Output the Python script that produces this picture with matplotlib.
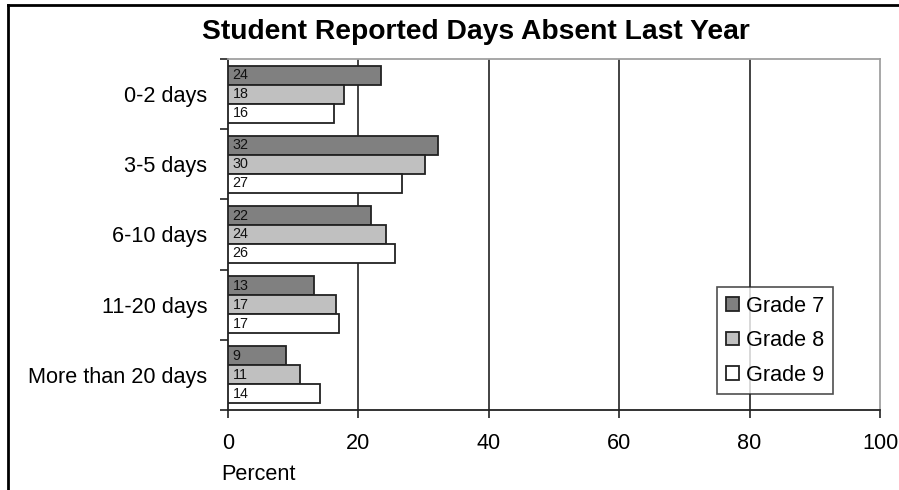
import matplotlib
matplotlib.use("Agg")
import matplotlib.pyplot as plt
from matplotlib.lines import Line2D
import numpy as np

plt.rcParams['font.family'] = ['Liberation Sans', 'DejaVu Sans']

categories = ["0-2 days", "3-5 days", "6-10 days", "11-20 days", "More than 20 days"]
series_names = ["Grade 7", "Grade 8", "Grade 9"]
grade7 = [23.5, 32.2, 21.9, 13.2, 8.9]
grade8 = [17.8, 30.2, 24.2, 16.6, 11.0]
grade9 = [16.2, 26.7, 25.6, 17.1, 14.1]
x_ticks = [0, 20, 40, 60, 80, 100]

colors = ["#808080", "#C0C0C0", "#FFFFFF"]
edge = "#222222"
fs = 15.6

fig = plt.figure(figsize=(8.99, 4.90), dpi=100)
ax = fig.add_axes([0.2536, 0.1633, 0.9789 - 0.2536, 0.8796 - 0.1633])

n = len(categories)
bar_h = 0.27
centers = np.arange(n)
for i, (vals, col, name) in enumerate(zip([grade7, grade8, grade9], colors, series_names)):
    ypos = centers + (i - 1) * bar_h
    ax.barh(ypos, vals, height=bar_h, color=col, edgecolor=edge, linewidth=1.3,
            label=name, zorder=3)
    for y, v in zip(ypos, vals):
        ax.text(0.7, y, f"{v:.0f}", ha="left", va="center", fontsize=10.3,
                color="#111111", zorder=4)

ax.set_xlim(0, 100)
ax.set_ylim(n - 0.5, -0.5)
ax.set_xticks(x_ticks)
ax.set_xticklabels([str(t) for t in x_ticks], fontsize=fs)
ax.tick_params(axis="x", direction="out", length=6, width=1.2, pad=10.5, color="#222222")

ax.set_yticks(centers)
ax.set_yticklabels(categories, fontsize=fs)
ax.tick_params(axis="y", which="major", length=0, pad=15)
ax.set_yticks(np.arange(n + 1) - 0.5, minor=True)
ax.tick_params(axis="y", which="minor", direction="out", length=6, width=1.2, color="#222222")

for t in x_ticks[1:-1]:
    ax.axvline(t, color="#222222", linewidth=1.2, zorder=1)

for side in ("left", "bottom"):
    ax.spines[side].set_color("#222222")
    ax.spines[side].set_linewidth(1.3)
for side in ("top", "right"):
    ax.spines[side].set_color("#A0A0A0")
    ax.spines[side].set_linewidth(1.3)

fig.text(0.5295, 0.934, "Student Reported Days Absent Last Year", ha="center", va="center",
         fontsize=20.3, fontweight="bold")
fig.text(0.2466, 0.031, "Percent", ha="left", va="center", fontsize=fs)

leg = ax.legend(loc="lower left", bbox_to_anchor=(0.75, 0.045), frameon=True,
                fancybox=False, fontsize=fs, handlelength=0.6, handleheight=0.6,
                handletextpad=0.32, labelspacing=0.62, borderpad=0.4, borderaxespad=0)
leg.get_frame().set_edgecolor("#222222")
leg.get_frame().set_linewidth(1.2)
leg.set_zorder(5)

# outer frame lines (left and top)
fig.add_artist(Line2D([0.0085, 0.0085], [0, 0.99], transform=fig.transFigure,
                      color="black", linewidth=2))
fig.add_artist(Line2D([0.0085, 1.0], [0.99, 0.99], transform=fig.transFigure,
                      color="black", linewidth=2))

fig.savefig("out.png", dpi=100)
